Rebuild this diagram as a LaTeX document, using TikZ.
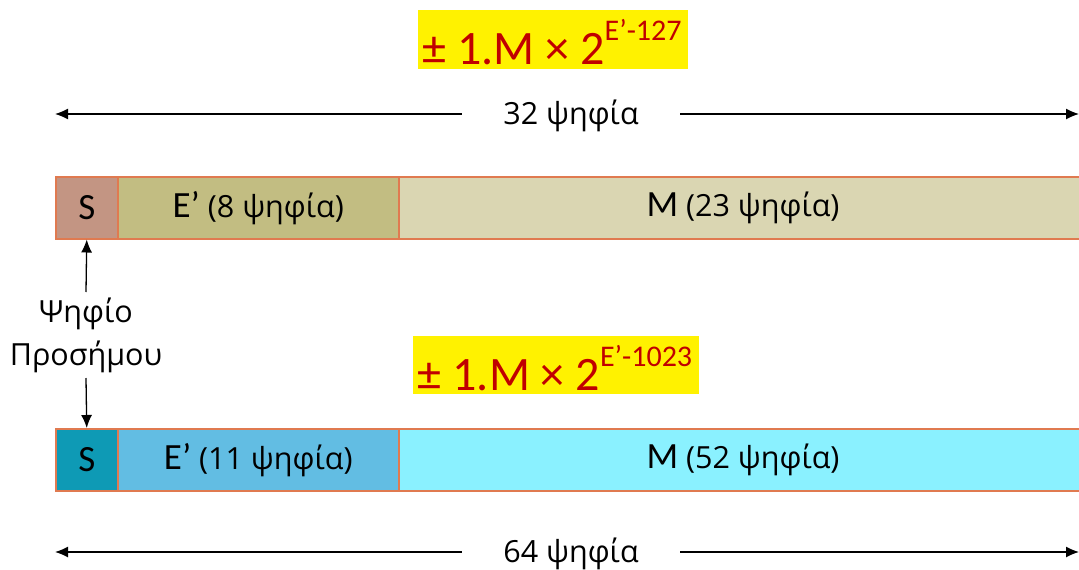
\documentclass[tikz,border=0pt]{standalone}
\usepackage{fontspec}
\setmainfont{Open Sans}
\newfontfamily\calfont{Carlito}
\usetikzlibrary{arrows.meta}
\definecolor{frm}{HTML}{C00000}
\definecolor{brd}{HTML}{E07A50}
\definecolor{sA}{HTML}{C39583}
\definecolor{eA}{HTML}{C2BD82}
\definecolor{mA}{HTML}{DAD6B2}
\definecolor{sB}{HTML}{0E9AB5}
\definecolor{eB}{HTML}{62BDE3}
\definecolor{mB}{HTML}{8AF1FF}
\tikzset{
  x=1pt,y=-1pt,
  field/.style={draw=brd,line width=1.5pt,inner sep=0pt,font=\fontsize{30.5}{32}\selectfont},
  formula/.style={text=frm,inner sep=0pt,font=\calfont\fontsize{48}{50}\selectfont},
  lbl/.style={font=\fontsize{30.5}{43}\selectfont,align=center,inner sep=0pt},
  arr/.style={-{Latex[length=13pt,width=11pt]},line width=1.3pt},
}
\newcommand{\supx}[1]{\raisebox{0.5em}{\fontsize{30}{30}\selectfont #1}}
\newcommand{\cl}[1]{{\calfont\fontsize{37}{37}\selectfont #1}}
\begin{document}
\begin{tikzpicture}
\useasboundingbox (0,0) rectangle (1079,570);
\clip (0,0) rectangle (1079,570);
% formulas
\fill[yellow] (418,10) rectangle (688,69);
\node[formula,anchor=center] (f1) at (552,42) {± 1.M × 2\supx{E’-127}};
\fill[yellow] (413,336) rectangle (699,394);
\node[formula,anchor=center] (f2) at (555,368) {± 1.M × 2\supx{E’-1023}};
% top width arrow
\coordinate (tl) at (55,114);
\coordinate (tr) at (1079,114);
\node[lbl,minimum width=218pt,minimum height=30pt] (t32) at (571,116) {32 ψηφία};
\draw[arr] (t32.west|-tl) -- (tl);
\draw[arr] (t32.east|-tr) -- (tr);
% top bar
\node[field,fill=sA,minimum width=62pt,minimum height=62pt,anchor=north west] (s1) at (55,176) {\cl{S}};
\node[field,fill=eA,minimum width=281pt,minimum height=62pt,anchor=north west] (e1) at (117,176) {\cl{E’} (8 ψηφία)};
\node[field,fill=mA,minimum width=740pt,minimum height=62pt,anchor=north west] (m1) at (398,176) {};
\node[lbl] (m1t) at (743,208) {\cl{M} (23 ψηφία)};
% sign label
\node[lbl] (sg) at (86,335) {Ψηφίο\\Προσήμου};
% bottom bar
\node[field,fill=sB,minimum width=62pt,minimum height=62pt,anchor=north west] (s2) at (55,428) {\cl{S}};
\node[field,fill=eB,minimum width=281pt,minimum height=62pt,anchor=north west] (e2) at (117,428) {\cl{E’} (11 ψηφία)};
\node[field,fill=mB,minimum width=740pt,minimum height=62pt,anchor=north west] (m2) at (398,428) {};
\node[lbl] (m2t) at (743,460) {\cl{M} (52 ψηφία)};
\coordinate (su) at (86,292);
\coordinate (sd) at (86,378);
\draw[arr] (su) -- (s1.south);
\draw[arr] (sd) -- (s2.north);
% bottom width arrow
\coordinate (bl) at (55,552);
\coordinate (br) at (1079,552);
\node[lbl,minimum width=218pt,minimum height=30pt] (t64) at (571,554) {64 ψηφία};
\draw[arr] (t64.west|-bl) -- (bl);
\draw[arr] (t64.east|-br) -- (br);
\end{tikzpicture}
\end{document}
